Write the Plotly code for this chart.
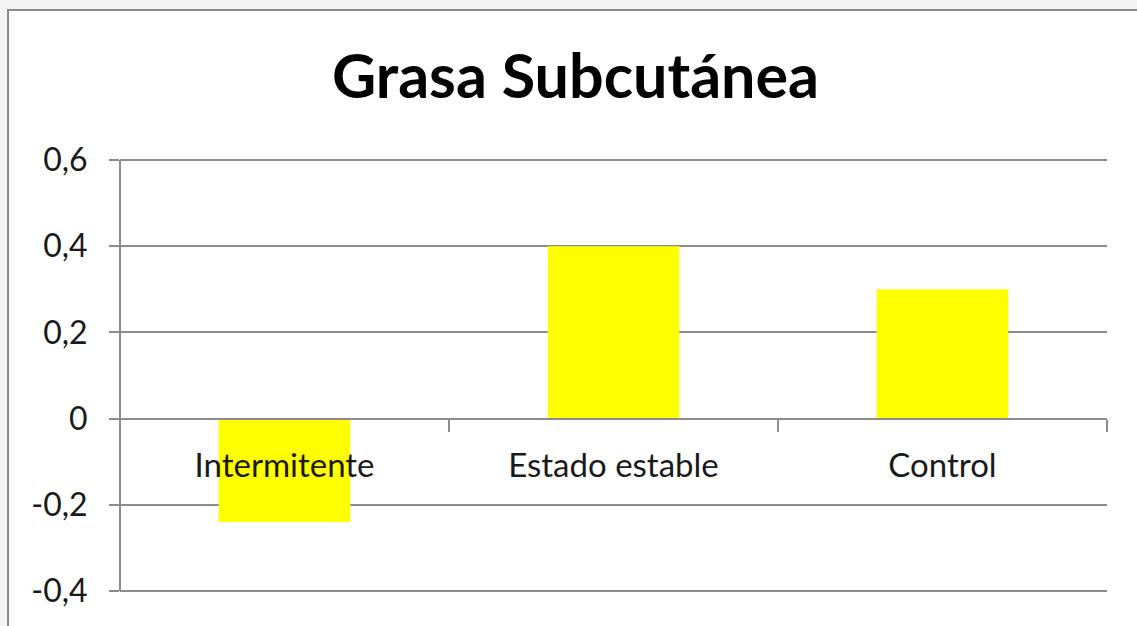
import plotly.graph_objects as go

categories = ["Intermitente", "Estado estable", "Control"]
values = [-0.24, 0.40, 0.30]
y_tickvals = [-0.4, -0.2, 0, 0.2, 0.4, 0.6]
y_ticktext = ["-0,4", "-0,2", "0", "0,2", "0,4", "0,6"]
title_text = "Grasa Subcutánea"

W, H = 1137, 626
ymin, ymax = -0.4, 0.6
top_px, bot_px = 160, 591          # pixel rows of ymax and ymin
pad_px = 3
L, R = 120, 30
T, B = top_px - pad_px, H - bot_px - pad_px
pw, ph = W - L - R, H - T - B
pad = pad_px * (ymax - ymin) / (bot_px - top_px)
r0, r1 = ymin - pad, ymax + pad

grid = "#8c8c8c"
txt = "#1a1a1a"
outer = "#f3f3f3"

fig = go.Figure(go.Bar(x=categories, y=values, marker=dict(color="#ffff00", line=dict(width=0))))

def px_x(p):
    return (p - L) / pw

def px_y(p):
    return (H - B - p) / ph

fig.add_shape(type="rect", xref="paper", yref="paper",
              x0=px_x(8), x1=px_x(1150), y0=px_y(10), y1=px_y(650),
              fillcolor="white", line=dict(color="#8a8a8a", width=2), layer="below")

fig.update_layout(
    width=W, height=H,
    margin=dict(l=L, r=R, t=T, b=B, autoexpand=False),
    paper_bgcolor=outer, plot_bgcolor="white",
    bargap=0.6, showlegend=False,
    font=dict(family="Lato, sans-serif", color=txt),
    title=dict(text=title_text, font=dict(family="Lato, sans-serif", size=61, color="#000000", weight="bold"),
               xref="container", x=575.5 / W, xanchor="center",
               yref="container", y=1 - 77 / H, yanchor="middle"),
    xaxis=dict(type="category", range=[-0.5, 2.5], anchor="free",
               position=(0 - r0) / (r1 - r0),
               showline=True, linecolor=grid, linewidth=2,
               tickson="boundaries", ticks="outside", ticklen=12, tickcolor=grid, tickwidth=2,
               showgrid=False, tickfont=dict(size=33, color=txt), ticklabelstandoff=18),
    yaxis=dict(range=[r0, r1], tickvals=y_tickvals, ticktext=y_ticktext,
               showline=False,
               showgrid=True, gridcolor=grid, gridwidth=2, zeroline=False,
               ticks="outside", ticklen=10, tickcolor=grid, tickwidth=2,
               tickfont=dict(size=32, color=txt), ticklabelstandoff=15),
)

# vertical value-axis line spanning exactly ymin..ymax
fig.add_shape(type="line", xref="paper", yref="y", x0=0, x1=0, y0=ymin, y1=ymax,
              line=dict(color=grid, width=2), layer="above")

fig.write_html("out.html", config={"displayModeBar": False},
               post_script="document.body.style.margin='0';document.body.style.background='%s';" % outer)
